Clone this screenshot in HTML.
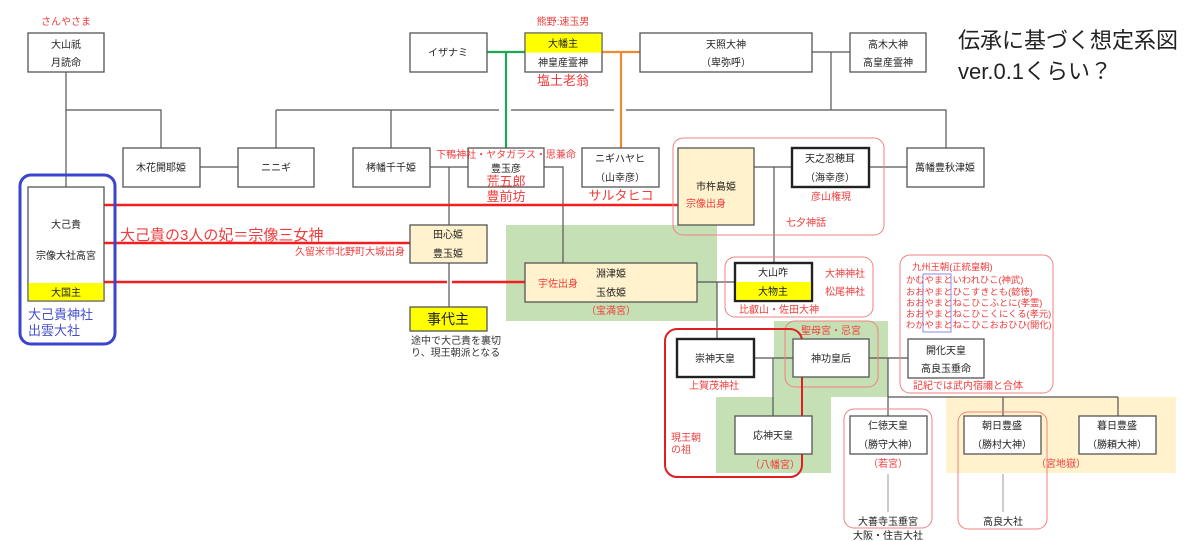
<!DOCTYPE html>
<html><head><meta charset="utf-8"><style>
html,body{margin:0;padding:0;background:#fff;}
svg{display:block;font-family:"Liberation Sans","Noto Sans CJK JP",sans-serif;}
.b{fill:#fff;stroke:#555;stroke-width:1.3}
.k{fill:#fff;stroke:#222;stroke-width:2.4}
.c{fill:#fff2cc;stroke:#555;stroke-width:1.3}
.l{stroke:#555;stroke-width:1.2;fill:none}
.t{font-size:10px;fill:#222;text-anchor:middle}
.r{font-size:10px;fill:#f03c3c}
.rs{font-size:9.3px;fill:#f03c3c}
.rm{font-size:10px;fill:#f03c3c;text-anchor:middle}
.rr{fill:none;stroke:#f28080;stroke-width:1}
</style></head><body>
<svg width="1200" height="541" viewBox="0 0 1200 541">
<rect x="506" y="225" width="211" height="96" fill="#c5e0b4"/>
<polygon points="774,321 888,321 888,397 831,397 831,473 716,473 716,397 774,397" fill="#c5e0b4"/>
<rect x="946" y="397" width="230" height="76" fill="#fff2cc"/>

<path class="l" d="M66 72V187M66 110H161V148M276 110H499M511 110H614M626 110H946V148M276 110V148M391 110V148M831 52V110M812 52H850"/>
<path class="l" d="M200 167H238M430 167H468M449 167V307M544 167H563V263M754 167H792M774 167V263M869 167H907M697 282H735M717 282V339M754 358H793M773 358V416M869 358H908M888 358V416M888 397H1118M1003 397V416M1118 397V416"/>
<path d="M888 474V512M1003 474V512" stroke="#999" stroke-width="1"/>
<path d="M487 52H525M506 52V148" stroke="#1aaa55" stroke-width="2.2" fill="none"/>
<path d="M602 52H640M621 52V148" stroke="#f08a30" stroke-width="2.2" fill="none"/>
<path d="M104 205H678M104 243H410M104 282H447M452 282H525" stroke="#f02020" stroke-width="2.5" fill="none"/>

<rect x="20" y="175" width="95" height="169" rx="11" fill="none" stroke="#3a44cc" stroke-width="3"/>
<rect class="rr" x="673" y="138" width="211" height="97" rx="10"/>
<rect class="rr" x="725" y="257" width="148" height="60" rx="10"/>
<rect class="rr" x="785" y="321" width="93" height="66" rx="10"/>
<rect class="rr" x="900" y="255" width="153" height="138" rx="10"/>
<rect class="rr" x="844" y="409" width="88" height="119" rx="10"/>
<rect class="rr" x="958" y="412" width="89" height="117" rx="10"/>
<rect x="923" y="274" width="28" height="58" fill="none" stroke="#8888ee" stroke-width="1"/>

<rect class="b" x="28" y="33" width="76" height="39"/>
<text class="t" x="66" y="48">大山祇</text><text class="t" x="66" y="66">月読命</text>
<text class="rm" x="66" y="25">さんやさま</text>
<rect class="b" x="410" y="33" width="77" height="39"/><text class="t" x="448" y="56">イザナミ</text>
<rect class="b" x="525" y="33" width="77" height="39"/>
<rect x="525.6" y="33.6" width="75.8" height="19" fill="#ffff00"/>
<text class="t" x="563" y="47">大幡主</text><text class="t" x="563" y="66">神皇産霊神</text>
<text class="rm" x="563" y="25">熊野:速玉男</text>
<text x="563" y="85" style="font-size:13px;fill:#f03c3c;text-anchor:middle">塩土老翁</text>
<rect class="b" x="640" y="33" width="172" height="39"/>
<text class="t" x="726" y="48">天照大神</text><text class="t" x="726" y="66">（卑弥呼）</text>
<rect class="b" x="850" y="33" width="76" height="39"/>
<text class="t" x="888" y="48">高木大神</text><text class="t" x="888" y="66">高皇産霊神</text>
<text x="958" y="48" style="font-size:22px;fill:#222">伝承に基づく想定系図</text>
<text x="958" y="79" style="font-size:22px;fill:#222">ver.0.1くらい？</text>

<rect class="b" x="123" y="148" width="77" height="39"/><text class="t" x="161" y="171">木花開耶姫</text>
<rect class="b" x="238" y="148" width="76" height="39"/><text class="t" x="276" y="171">ニニギ</text>
<rect class="b" x="353" y="148" width="77" height="39"/><text class="t" x="391" y="171">栲幡千千姫</text>
<rect class="b" x="468" y="148" width="76" height="39"/>
<text class="t" x="506" y="172">豊玉彦</text>
<text class="rm" x="506" y="158">下鴨神社・ヤタガラス・思兼命</text>
<text x="506" y="186" style="font-size:13px;fill:#f03c3c;text-anchor:middle">荒五郎</text>
<text x="506" y="201" style="font-size:13px;fill:#f03c3c;text-anchor:middle">豊前坊</text>
<rect class="b" x="582" y="148" width="77" height="39"/>
<text class="t" x="620" y="162">ニギハヤヒ</text><text class="t" x="620" y="181">（山幸彦）</text>
<text x="621" y="200" style="font-size:13px;fill:#f03c3c;text-anchor:middle">サルタヒコ</text>
<rect class="c" x="678" y="148" width="76" height="77"/>
<text class="t" x="716" y="190">市杵島姫</text>
<text class="r" x="686" y="207">宗像出身</text>
<rect class="k" x="792" y="148" width="77" height="39"/>
<text class="t" x="830" y="162">天之忍穂耳</text><text class="t" x="830" y="181">（海幸彦）</text>
<text class="rm" x="831" y="200">彦山権現</text>
<text class="r" x="786" y="226">七夕神話</text>
<rect class="b" x="907" y="148" width="77" height="39"/><text class="t" x="945" y="171">萬幡豊秋津姫</text>

<rect class="b" x="28" y="187" width="76" height="114"/>
<rect x="28.6" y="283" width="74.8" height="17.4" fill="#ffff00"/>
<text class="t" x="66" y="228">大己貴</text><text class="t" x="66" y="259">宗像大社高宮</text><text class="t" x="66" y="296">大国主</text>
<text x="28" y="319" style="font-size:13px;fill:#4450cc">大己貴神社</text>
<text x="28" y="335" style="font-size:13px;fill:#4450cc">出雲大社</text>
<text x="120" y="240" style="font-size:15px;fill:#f03c3c">大己貴の3人の妃＝宗像三女神</text>
<text x="405" y="255" style="font-size:10px;fill:#f03c3c;text-anchor:end">久留米市北野町大城出身</text>

<rect class="c" x="410" y="225" width="77" height="38"/>
<text class="t" x="448" y="238">田心姫</text><text class="t" x="448" y="257">豊玉姫</text>
<rect x="410" y="307" width="77" height="24" fill="#ffff00" stroke="#555" stroke-width="1.3"/>
<text x="448" y="324" style="font-size:14px;fill:#222;text-anchor:middle">事代主</text>
<text x="411" y="344" style="font-size:10px;fill:#333">途中で大己貴を裏切</text>
<text x="411" y="356" style="font-size:10px;fill:#333">り、現王朝派となる</text>

<rect class="c" x="525" y="263" width="172" height="39"/>
<text class="t" x="611" y="277">淵津姫</text><text class="t" x="611" y="296">玉依姫</text>
<text class="r" x="538" y="287">宇佐出身</text>
<text class="rm" x="611" y="314">（宝満宮）</text>

<rect class="k" x="735" y="263" width="77" height="38"/>
<rect x="736.2" y="282" width="74.6" height="17.8" fill="#ffff00"/>
<text class="t" x="773" y="276">大山咋</text><text class="t" x="773" y="295">大物主</text>
<text class="r" x="825" y="277">大神神社</text><text class="r" x="825" y="295">松尾神社</text>
<text class="r" x="739" y="313">比叡山・佐田大神</text>

<rect x="665" y="329" width="137" height="148" rx="12" fill="none" stroke="#e02020" stroke-width="2"/>
<rect class="k" x="677" y="339" width="77" height="38"/><text class="t" x="715" y="362">崇神天皇</text>
<text class="rm" x="714" y="389">上賀茂神社</text>
<rect class="b" x="793" y="339" width="76" height="38"/><text class="t" x="831" y="362">神功皇后</text>
<text class="rm" x="831" y="334">聖母宮・忌宮</text>
<rect class="b" x="735" y="416" width="77" height="38"/><text class="t" x="773" y="439">応神天皇</text>
<text class="rm" x="775" y="468">（八幡宮）</text>
<text class="r" x="671" y="441">現王朝</text><text class="r" x="671" y="453">の祖</text>

<text class="rs" x="912" y="270">九州王朝(正統皇朝)</text>
<text class="rs" x="906" y="283">かむやまといわれひこ(神武)</text>
<text class="rs" x="906" y="295">おおやまとひこすきとも(懿徳)</text>
<text class="rs" x="906" y="306">おおやまとねこひこふとに(孝霊)</text>
<text class="rs" x="906" y="317">おおやまとねこひこくにくる(孝元)</text>
<text class="rs" x="906" y="328">わかやまとねこひこおおひひ(開化)</text>
<rect class="b" x="908" y="339" width="76" height="39"/>
<text class="t" x="946" y="354">開化天皇</text><text class="t" x="946" y="372">高良玉垂命</text>
<text class="r" x="913" y="389">記紀では武内宿禰と合体</text>

<rect class="b" x="850" y="416" width="77" height="38"/>
<text class="t" x="888" y="429">仁徳天皇</text><text class="t" x="888" y="448">（勝守大神）</text>
<text class="rm" x="888" y="467">（若宮）</text>
<text class="t" x="888" y="525">大善寺玉垂宮</text><text class="t" x="888" y="539">大阪・住吉大社</text>
<rect class="b" x="964" y="416" width="77" height="38"/>
<text class="t" x="1002" y="429">朝日豊盛</text><text class="t" x="1002" y="448">（勝村大神）</text>
<text class="t" x="1003" y="525">高良大社</text>
<rect class="b" x="1079" y="416" width="77" height="38"/>
<text class="t" x="1117" y="429">暮日豊盛</text><text class="t" x="1117" y="448">（勝頼大神）</text>
<text class="rm" x="1061" y="467">（宮地嶽）</text>
</svg>
</body></html>
